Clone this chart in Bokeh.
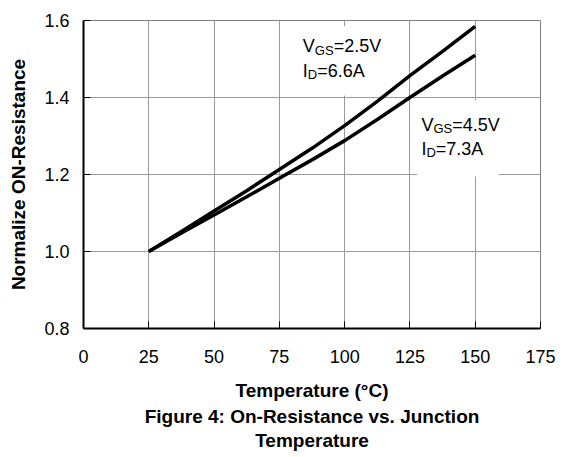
from bokeh.plotting import figure
from bokeh.models import Range1d, FixedTicker, PrintfTickFormatter, Label, BoxAnnotation, Title
from bokeh.embed import file_html
from bokeh.resources import INLINE

# ---- data ----
temperature = [25, 37.5, 50, 62.5, 75, 87.5, 100, 112.5, 125, 137.5, 150]
rds_vgs25 = [1.000, 1.052, 1.105, 1.158, 1.213, 1.268, 1.327, 1.390, 1.457, 1.520, 1.585]
rds_vgs45 = [1.000, 1.048, 1.095, 1.142, 1.190, 1.238, 1.288, 1.343, 1.400, 1.456, 1.510]
x_ticks = [0, 25, 50, 75, 100, 125, 150, 175]
y_ticks = [0.8, 1.0, 1.2, 1.4, 1.6]

FONT = "Liberation Sans"

p = figure(width=564, height=457, output_backend="svg", toolbar_location=None,
           x_range=Range1d(0, 175), y_range=Range1d(0.8, 1.6),
           min_border_left=83, min_border_right=24, min_border_top=20, min_border_bottom=129)
p.background_fill_color = "white"
p.border_fill_color = "white"
p.outline_line_color = "#808080"
p.outline_line_width = 1

for g in (p.xgrid, p.ygrid):
    g.grid_line_color = "#9a9a9a"
    g.grid_line_width = 1
p.xgrid.ticker = FixedTicker(ticks=x_ticks)
p.ygrid.ticker = FixedTicker(ticks=y_ticks)

for ax in (p.xaxis, p.yaxis):
    ax.axis_line_color = "black"
    ax.axis_line_width = 2
    ax.major_tick_in = 7
    ax.major_tick_out = 0
    ax.major_tick_line_color = "black"
    ax.minor_tick_line_color = None
    ax.major_label_text_font = FONT
    ax.major_label_text_font_size = "18px"
    ax.major_label_text_color = "black"
    ax.axis_label_text_font = FONT
    ax.axis_label_text_font_size = "19px"
    ax.axis_label_text_font_style = "bold"
    ax.axis_label_text_color = "black"

p.xaxis.ticker = FixedTicker(ticks=x_ticks)
p.yaxis.ticker = FixedTicker(ticks=y_ticks)
p.yaxis.formatter = PrintfTickFormatter(format="%.1f")
p.xaxis.major_label_standoff = 21
p.yaxis.major_label_standoff = 14
p.xaxis.axis_label = "Temperature (°C)"
p.yaxis.axis_label = "Normalize ON-Resistance"
p.xaxis.axis_label_standoff = 14
p.yaxis.axis_label_standoff = 12

# white boxes behind the annotations (they hide the grid)
p.add_layout(BoxAnnotation(left=79, right=122, bottom=1.405, top=1.585,
                           fill_color="white", fill_alpha=1, line_color=None, level="underlay"))
p.add_layout(BoxAnnotation(left=127.8, right=159, bottom=1.195, top=1.392,
                           fill_color="white", fill_alpha=1, line_color=None, level="underlay"))

p.line(temperature, rds_vgs25, line_color="black", line_width=3.5)
p.line(temperature, rds_vgs45, line_color="black", line_width=3.5)


def sub_label(x, y, main, sub, rest):
    fs, sfs = 18, 13
    widths = {"V": 0.667, "I": 0.278, "G": 0.778, "S": 0.667, "D": 0.722}
    w_main = sum(widths[c] for c in main) * fs
    w_sub = sum(widths[c] for c in sub) * sfs
    common = dict(x=x, y=y, text_font=FONT, text_color="black", text_baseline="alphabetic")
    p.add_layout(Label(text=main, text_font_size=f"{fs}px", **common))
    p.add_layout(Label(text=sub, text_font_size=f"{sfs}px", x_offset=w_main, y_offset=-4, **common))
    p.add_layout(Label(text=rest, text_font_size=f"{fs}px", x_offset=w_main + w_sub, **common))


sub_label(84.0, 1.533, "V", "GS", "=2.5V")
sub_label(84.0, 1.470, "I", "D", "=6.6A")
sub_label(129.4, 1.329, "V", "GS", "=4.5V")
sub_label(129.4, 1.267, "I", "D", "=7.3A")

for txt, so in (("Figure 4: On-Resistance vs. Junction", 0), ("Temperature", 3)):
    p.add_layout(Title(text=txt, text_font=FONT, text_font_size="19px", text_font_style="bold",
                       align="center", text_color="black", standoff=so, offset=0), "below")

open("out.html", "w").write(file_html(p, INLINE))
